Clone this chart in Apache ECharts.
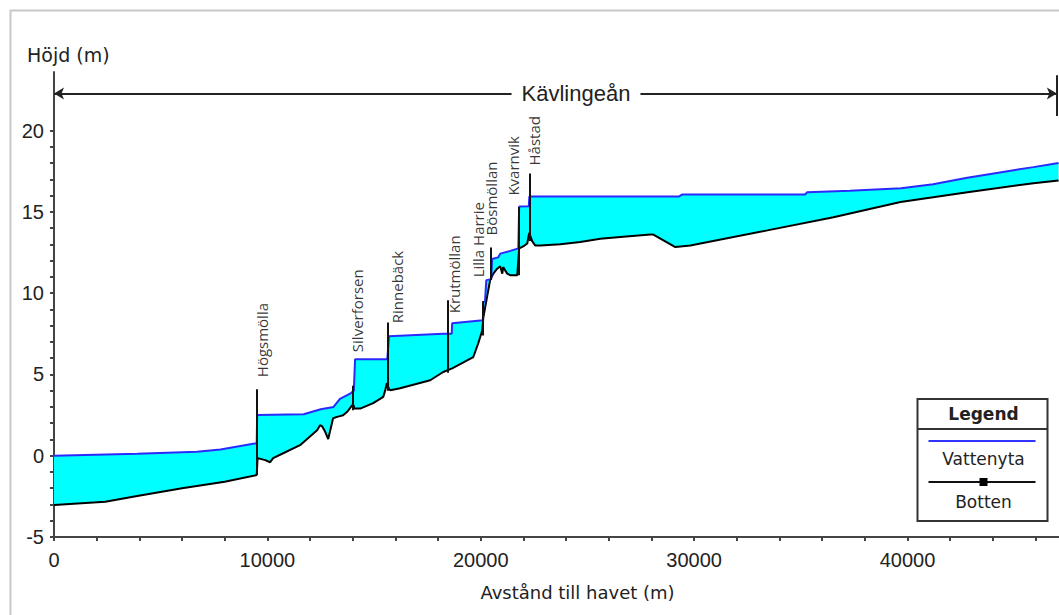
<!DOCTYPE html>
<html>
<head>
<meta charset="utf-8">
<title>Kävlingeån längdprofil</title>
<script src="https://cdn.jsdelivr.net/npm/echarts@6/dist/echarts.min.js"></script>
<style>
  html, body { margin: 0; padding: 0; background: #fff; }
  #chart { width: 1059px; height: 615px; }
</style>
</head>
<body>
<div id="chart"></div>
<script>
// vattenyta (water surface), distance from the sea in m / height in m
const waterX = [0, 3900, 6700, 7800, 9500, 9520, 11700, 12500, 13100, 13400, 13900, 14050, 14110, 15620, 15700, 18240, 18640, 18660,
  20100, 20120, 20200, 20260, 20490, 20530, 20820, 20910, 21380, 21760, 21800, 22250, 22280, 29300, 29450, 35200, 35300,
  37300, 39700, 41200, 42800, 44400, 45900, 47080];
const waterY = [0, 0.12, 0.25, 0.38, 0.77, 2.5, 2.55, 2.86, 3.0, 3.5, 3.84, 4.0, 5.93, 5.93, 7.35, 7.5, 7.5, 8.15,
  8.33, 9.45, 9.5, 10.8, 10.85, 12.1, 12.2, 12.43, 12.6, 12.75, 15.33, 15.35, 15.95, 15.95, 16.07, 16.07, 16.2,
  16.3, 16.45, 16.7, 17.1, 17.44, 17.75, 18.0];

// botten (river bed)
const bedX = [0, 2400, 3900, 6000, 8000, 9500, 9540, 9900, 10130, 10270, 10740, 11530, 12330, 12470, 12570, 12710, 12850,
  13080, 13270, 13550, 13740, 13970, 14040, 14070, 14350, 14960, 15430, 15520, 15600, 15700, 15760, 16220, 17630, 18240,
  18660, 19650, 19880, 20070, 20120, 20300, 20440, 20590, 20770, 20910, 21010, 21050, 21240, 21380, 21710, 21800, 21990,
  22180, 22270, 22410, 22550, 22790, 23730, 24660, 25600, 26540, 27950, 28090, 29120, 29820, 33430, 36530, 39670,
  42810, 45900, 47080];
const bedY = [-3.03, -2.83, -2.48, -2.0, -1.6, -1.19, -0.15, -0.27, -0.4, -0.15, 0.15, 0.65, 1.57, 1.88, 1.8, 1.47, 1.02,
  2.3, 2.39, 2.49, 2.7, 3.1, 3.1, 2.9, 2.9, 3.23, 3.62, 4.0, 4.46, 4.1, 4.03, 4.15, 4.64, 5.15,
  5.37, 6.07, 6.9, 7.7, 8.5, 9.8, 10.8, 11.2, 11.5, 11.65, 11.2, 11.6, 11.2, 11.1, 11.1, 12.75, 12.87,
  13.05, 13.7, 13.2, 12.93, 12.93, 13.0, 13.14, 13.35, 13.45, 13.6, 13.6, 12.83, 12.93, 13.86, 14.67, 15.6,
  16.2, 16.76, 16.93];

// dammar
const damNames = ['Högsmölla', 'Silverforsen', 'Rinnebäck', 'Krutmöllan', 'Lilla Harrie', 'Bösmöllan', 'Kvarnvik', 'Håstad'];
const damX = [9520, 14020, 15640, 18430, 20116, 20491, 21780, 22273];
const damTop = [4.09, 4.3, 8.2, 9.56, 9.5, 12.8, 15.3, 17.35];
const damBottom = [-1.19, 2.8, 4.0, 5.1, 7.4, 10.8, 11.1, 13.2];
const labelX = [9754, 14208, 16083, 18756, 19881, 20491, 21523, 22508];
const labelY = [4.83, 6.37, 8.15, 8.76, 10.97, 13.55, 16.0, 17.85];

const xLabels = [0, 10000, 20000, 30000, 40000];
const yLabels = [-5, 0, 5, 10, 15, 20];

const xMinor = [];
for (let v = 0; v <= 46000; v += 2000) xMinor.push(v);
const yMinor = [];
for (let v = -5; v <= 20; v += 1) yMinor.push(v);

const water = waterX.map((x, i) => [x, waterY[i]]);
const bed = bedX.map((x, i) => [x, bedY[i]]);
const ring = water.concat(bed.slice().reverse());

const spanY = 22.27;
const spanEnd = 47000;

const axisColor = '#444';
const tickFont = 'Liberation Sans';
const textFont = 'DejaVu Sans';

const chart = echarts.init(document.getElementById('chart'), null, { renderer: 'svg' });

chart.setOption({
  animation: false,
  backgroundColor: '#fff',
  grid: { left: 54, right: 0, top: 72, bottom: 78 },
  xAxis: {
    type: 'value',
    min: 0,
    max: 47100,
    name: 'Avstånd till havet (m)',
    nameLocation: 'middle',
    nameGap: 46,
    nameTextStyle: { fontFamily: textFont, fontSize: 18, color: '#222', padding: [0, 0, 0, 42] },
    axisLine: { show: true, onZero: false, lineStyle: { color: axisColor, width: 2 } },
    axisTick: { show: true, length: 4, customValues: xMinor, lineStyle: { color: axisColor, width: 2 } },
    axisLabel: {
      customValues: xLabels, margin: 13, fontFamily: tickFont, fontSize: 20, color: '#222',
      formatter: v => String(v)
    },
    splitLine: { show: false }
  },
  yAxis: {
    type: 'value',
    min: -5,
    max: 23.6,
    axisLine: { show: true, onZero: false, lineStyle: { color: axisColor, width: 2 } },
    axisTick: { show: true, length: 4, customValues: yMinor, lineStyle: { color: axisColor, width: 2 } },
    axisLabel: {
      customValues: yLabels, margin: 10, fontFamily: tickFont, fontSize: 20, color: '#222',
      formatter: v => String(v)
    },
    splitLine: { show: false }
  },
  graphic: [
    {
      type: 'rect', left: 8, top: 8, z: -10, silent: true,
      shape: { width: 1200, height: 800 },
      style: { fill: 'none', stroke: '#c8c8c8', lineWidth: 2 }
    },
    {
      type: 'text', x: 27, y: 55, silent: true,
      style: { text: 'Höjd (m)', font: '19px "DejaVu Sans"', fill: '#222', verticalAlign: 'middle' }
    },
    {
      type: 'text', x: 576, y: 93, z: 50, silent: true,
      style: {
        text: 'Kävlingeån', font: '22px "Liberation Sans"', fill: '#222',
        align: 'center', verticalAlign: 'middle', backgroundColor: '#fff', padding: [3, 10]
      }
    },
    {
      type: 'group', left: 915, top: 398, z: 100,
      children: [
        { type: 'rect', shape: { x: 0, y: 0, width: 130, height: 122 }, style: { fill: '#fff', stroke: '#333', lineWidth: 2 } },
        { type: 'line', shape: { x1: 0, y1: 30, x2: 130, y2: 30 }, style: { stroke: '#333', lineWidth: 2 } },
        { type: 'text', x: 66, y: 15, style: { text: 'Legend', font: 'bold 17px "DejaVu Sans"', fill: '#222', align: 'center', verticalAlign: 'middle' } },
        { type: 'line', shape: { x1: 11, y1: 42, x2: 118, y2: 42 }, style: { stroke: '#3333ff', lineWidth: 2 } },
        { type: 'text', x: 66, y: 60, style: { text: 'Vattenyta', font: '17px "DejaVu Sans"', fill: '#222', align: 'center', verticalAlign: 'middle' } },
        { type: 'line', shape: { x1: 11, y1: 83, x2: 118, y2: 83 }, style: { stroke: '#111', lineWidth: 2 } },
        { type: 'rect', shape: { x: 62, y: 79, width: 8, height: 8 }, style: { fill: '#000' } },
        { type: 'text', x: 66, y: 103, style: { text: 'Botten', font: '17px "DejaVu Sans"', fill: '#222', align: 'center', verticalAlign: 'middle' } }
      ]
    }
  ],
  series: [
    {
      name: 'Vatten',
      type: 'custom',
      data: ring,
      encode: { x: 0, y: 1 },
      silent: true,
      z: 1,
      renderItem: function (params, api) {
        if (params.dataIndex !== 0) return null;
        return {
          type: 'polygon',
          shape: { points: ring.map(p => api.coord(p)) },
          style: { fill: '#00ffff', stroke: 'none' }
        };
      }
    },
    {
      name: 'Botten',
      type: 'line',
      data: bed,
      symbol: 'none',
      z: 3,
      lineStyle: { color: '#000', width: 2 }
    },
    {
      name: 'Dammar',
      type: 'scatter',
      data: damNames.map((n, i) => ({ name: n, value: [labelX[i], labelY[i]] })),
      symbolSize: 0,
      z: 5,
      label: {
        show: true,
        formatter: '{b}',
        position: [0, 0],
        rotate: 90,
        align: 'left',
        verticalAlign: 'middle',
        fontFamily: 'Open Sans',
        fontSize: 15,
        color: '#000'
      },
      markLine: {
        silent: true,
        symbol: ['none', 'none'],
        lineStyle: { color: '#111', width: 2, type: 'solid' },
        label: { show: false },
        data: damX.map((x, i) => [{ coord: [x, damTop[i]] }, { coord: [x, damBottom[i]] }])
      }
    },
    {
      name: 'Vattenyta',
      type: 'line',
      data: water,
      symbol: 'none',
      z: 4,
      lineStyle: { color: '#2a2aff', width: 2 },
      markLine: {
        silent: true,
        symbol: ['none', 'none'],
        symbolSize: [9, 10],
        lineStyle: { color: '#222', width: 2, type: 'solid' },
        label: { show: false },
        data: [
          [
            { coord: [0, spanY], symbol: 'arrow' },
            { coord: [spanEnd, spanY], symbol: 'arrow' }
          ],
          [
            { coord: [spanEnd, 20.9] },
            { coord: [spanEnd, 23.4] }
          ]
        ]
      }
    }
  ]
});
</script>
</body>
</html>
